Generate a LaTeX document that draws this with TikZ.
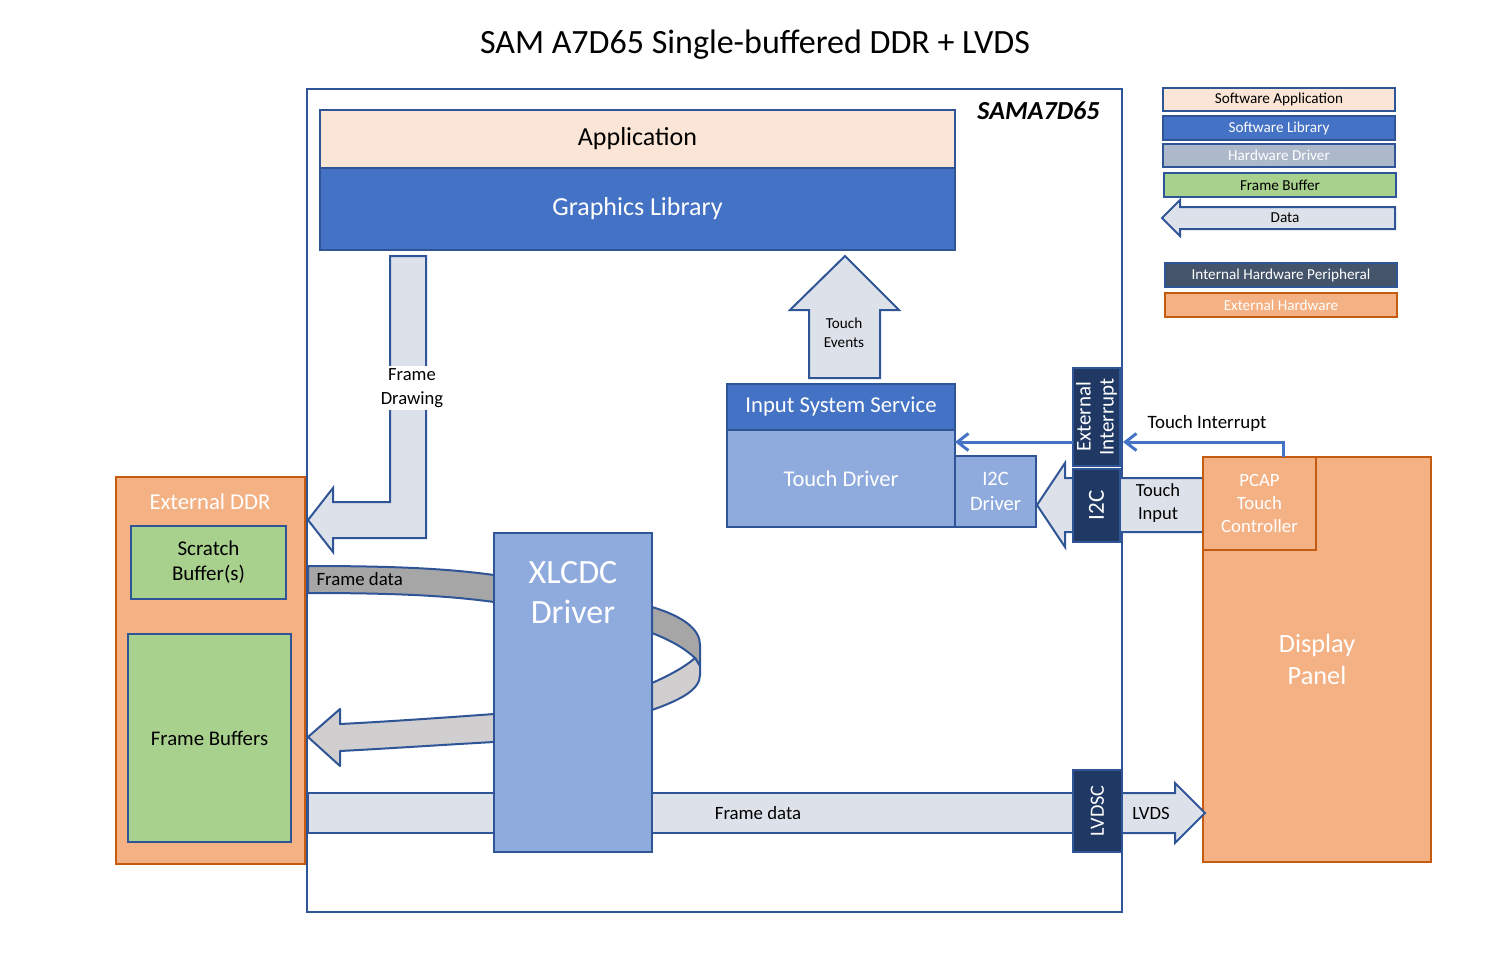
\documentclass[tikz,border=0pt]{standalone}
\usepackage{fontspec}
\setmainfont{Carlito}
\usetikzlibrary{arrows.meta}

\definecolor{bdr}{HTML}{2F5597}
\definecolor{appfill}{HTML}{FBE5D6}
\definecolor{libblue}{HTML}{4472C4}
\definecolor{drvblue}{HTML}{8FAADC}
\definecolor{hwgrey}{HTML}{ADB9CA}
\definecolor{fbgreen}{HTML}{A9D18E}
\definecolor{datafill}{HTML}{DDE2EA}
\definecolor{navy}{HTML}{1F3864}
\definecolor{slate}{HTML}{44546A}
\definecolor{extfill}{HTML}{F4B183}
\definecolor{extline}{HTML}{C55A11}
\definecolor{ribdark}{HTML}{A6A6A6}
\definecolor{riblight}{HTML}{D0CECE}

\tikzset{
  box/.style={draw=bdr, line width=2pt, inner sep=0pt, outer sep=0pt, anchor=north west, align=center},
  appbox/.style={box, fill=appfill},
  libbox/.style={box, fill=libblue, text=white},
  drvbox/.style={box, fill=drvblue, text=white},
  bufbox/.style={box, fill=fbgreen},
  perbox/.style={box, fill=navy, text=white},
  extbox/.style={box, fill=extfill, draw=extline, text=white},
  dataarrow/.style={draw=bdr, line width=2pt, fill=datafill, line join=miter},
  ribbon/.style={draw=bdr, line width=2pt, line join=round},
  irq/.style={draw=libblue, line width=3pt, -{Straight Barb[length=11pt,width=17pt]}},
  rotlbl/.style={rotate=90, text=white, align=center}
}

\begin{document}
\begin{tikzpicture}[x=1pt, y=-1pt]
  \useasboundingbox (0,0) rectangle (1508,963);

  %% title
  \node[font=\fontsize{34}{40}\selectfont] (title) at (755,45) {SAM A7D65 Single-buffered DDR + LVDS};

  %% SoC
  \node[draw=bdr, line width=2pt, inner sep=0pt, anchor=north west, minimum width=815, minimum height=823] (soc) at (306,88) {};
  \node[font=\fontsize{26}{31}\selectfont\bfseries\itshape, anchor=east] (socname) at (1103,111) {SAMA7D65};

  \node[appbox, minimum width=635, minimum height=58, font=\fontsize{26}{31}\selectfont] (app) at (320,110) {Application};
  \node[libbox, minimum width=635, minimum height=82, font=\fontsize{26}{31}\selectfont] (gfx) at (320,168) {Graphics Library};

  %% frame drawing
  \draw[dataarrow] (390,256) -- (426,256) -- (426,538) -- (333,538) -- (333,552) -- (308,520)
        -- (333,488) -- (333,502) -- (390,502) -- cycle;
  \node[fill=white, inner sep=2pt, align=center, font=\fontsize{18.6}{24}\selectfont] (drawlbl) at (412,388) {Frame\\Drawing};

  %% touch events
  \draw[dataarrow] (809,378) -- (809,310) -- (790,310) -- (845,256) -- (899,310) -- (880,310) -- (880,378) -- cycle;
  \node[align=center, font=\fontsize{15.2}{19}\selectfont] (evlbl) at (844,333) {Touch\\Events};

  %% input stack
  \node[libbox, minimum width=228, minimum height=46, font=\fontsize{22.7}{27}\selectfont] (iss) at (727,384) {Input System Service};
  \node[drvbox, minimum width=228, minimum height=97, font=\fontsize{22.5}{27}\selectfont] (tdrv) at (727,430) {Touch Driver};

  %% touch input
  \draw[dataarrow] (1203,478) -- (1065,478) -- (1065,463) -- (1037,505) -- (1065,547) -- (1065,532) -- (1203,532) -- cycle;
  \node[align=center, font=\fontsize{18.5}{23}\selectfont] (tinlbl) at (1158,503) {Touch\\Input};
  \node[drvbox, minimum width=81, minimum height=71, font=\fontsize{20.5}{25}\selectfont] (i2cdrv) at (955,456) {I2C\\Driver};

  %% peripherals
  \node[perbox, minimum width=47, minimum height=98] (extint) at (1073,368) {};
  \node[rotlbl, font=\fontsize{21}{23}\selectfont] (extintlbl) at (extint.center) {External\\Interrupt};
  \node[perbox, minimum width=47, minimum height=73] (i2c) at (1073,469) {};
  \node[rotlbl, font=\fontsize{23}{27}\selectfont] (i2clbl) at (i2c.center) {I2C};

  %% display
  \node[extbox, minimum width=228, minimum height=405, font=\fontsize{26.3}{32}\selectfont] (panel) at (1203,457) {Display\\Panel};
  \node[extbox, minimum width=113, minimum height=93, font=\fontsize{18.8}{23}\selectfont] (pcap) at (1203,457) {PCAP\\Touch\\Controller};

  %% interrupts
  \coordinate (irqy) at (0,442);
  \coordinate (irqsrc) at (1283,457);
  \draw[irq] (extint.west |- irqy) -- (tdrv.east |- irqy);
  \draw[irq] (irqsrc) |- (soc.east |- irqy);
  \node[font=\fontsize{18.9}{23}\selectfont] (irqlbl) at (1207,423) {Touch Interrupt};

  %% external DDR
  \node[extbox, minimum width=189, minimum height=387] (ddr) at (116,477) {};
  \node[text=white, font=\fontsize{22.7}{27}\selectfont] (ddrlbl) at (210,502) {External DDR};
  \node[bufbox, minimum width=155, minimum height=73, font=\fontsize{21}{25}\selectfont] (scratch) at (131,526) {Scratch\\Buffer(s)};
  \node[bufbox, minimum width=163, minimum height=208, font=\fontsize{20.8}{25}\selectfont] (fbufs) at (128,634) {Frame Buffers};

  %% ribbons through XLCDC
  \draw[ribbon, fill=ribdark] (308,566) .. controls (400,566) and (450,569) .. (494,575) -- (494,602)
        .. controls (450,596) and (400,593) .. (308,593) -- cycle;
  \node[anchor=west, font=\fontsize{18.8}{23}\selectfont] (fdlbl) at (313,579) {Frame data};
  \draw[ribbon, fill=ribdark] (652,607) .. controls (685,617) and (700,630) .. (700,645) -- (700,666)
        -- (695,658) .. controls (682,646) and (667,639) .. (652,633) -- cycle;
  \draw[ribbon, fill=riblight] (652,683) .. controls (668,676) and (685,667) .. (695,658) -- (700,666)
        -- (700,675) .. controls (700,690) and (680,700) .. (652,710) -- cycle;
  \draw[ribbon, fill=riblight] (494,714) .. controls (440,718) and (380,722) .. (340,724) -- (340,709)
        -- (308,737) -- (340,766) -- (340,751) .. controls (380,749) and (440,745) .. (494,742) -- cycle;

  %% frame data to LVDS
  \draw[dataarrow] (308,793) rectangle (1073,833);
  \node[font=\fontsize{18.8}{23}\selectfont] (fdlbl2) at (758,813) {Frame data};
  \draw[dataarrow] (1121,793) -- (1175,793) -- (1175,783) -- (1205,813) -- (1175,843) -- (1175,833) -- (1121,833) -- cycle;
  \node[font=\fontsize{18.7}{23}\selectfont] (lvdslbl) at (1151,813) {LVDS};

  \node[drvbox, minimum width=158, minimum height=319] (xlcdc) at (494,533) {};
  \node[text=white, align=center, font=\fontsize{34}{40}\selectfont] (xlcdclbl) at (573,593) {XLCDC\\Driver};
  \node[perbox, minimum width=49, minimum height=82] (lvdsc) at (1073,770) {};
  \node[rotlbl, font=\fontsize{20.2}{24}\selectfont] (lvdsclbl) at (lvdsc.center) {LVDSC};

  %% legend
  \node[appbox, minimum width=232, minimum height=23, font=\fontsize{15.2}{18}\selectfont] (lgapp) at (1163,88) {Software Application};
  \node[libbox, minimum width=232, minimum height=24, font=\fontsize{15.2}{18}\selectfont] (lglib) at (1163,116) {Software Library};
  \node[box, fill=hwgrey, text=white, minimum width=232, minimum height=23, font=\fontsize{15.2}{18}\selectfont] (lgdrv) at (1163,144) {Hardware Driver};
  \node[bufbox, minimum width=232, minimum height=24, font=\fontsize{15.2}{18}\selectfont] (lgbuf) at (1164,173) {Frame Buffer};
  \draw[dataarrow] (1395,207) -- (1180,207) -- (1180,200) -- (1162,218) -- (1180,236) -- (1180,229) -- (1395,229) -- cycle;
  \node[font=\fontsize{15.2}{18}\selectfont] (lgdata) at (1285,218) {Data};
  \node[box, fill=slate, text=white, minimum width=232, minimum height=24, font=\fontsize{15.2}{18}\selectfont] (lgper) at (1165,263) {Internal Hardware Peripheral};
  \node[extbox, minimum width=232, minimum height=24, font=\fontsize{15.2}{18}\selectfont] (lgext) at (1165,293) {External Hardware};
\end{tikzpicture}
\end{document}
